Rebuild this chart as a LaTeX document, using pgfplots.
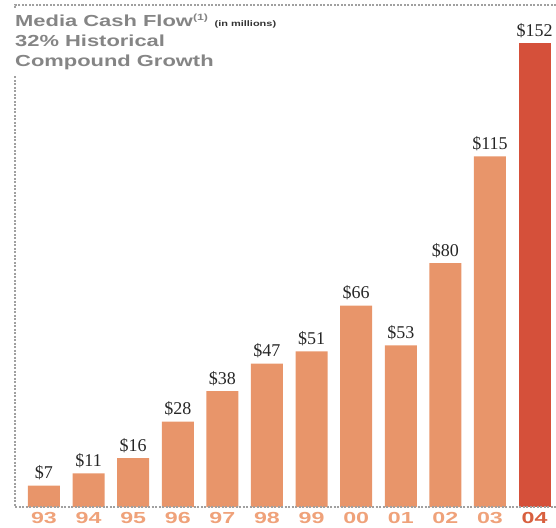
\documentclass[border=0pt]{standalone}
\usepackage{pgfplots}
\pgfplotsset{compat=1.18}
\usepackage{pgfplotstable}
\usepackage{fontspec}
\setmainfont{Liberation Serif}
\newfontfamily\widefont{Liberation Sans}[FakeStretch=1.45]
\newfontfamily\titlefont{Liberation Sans}[FakeStretch=1.37]
\definecolor{barorange}{HTML}{E8956A}
\definecolor{barred}{HTML}{D5503A}
\definecolor{baredge}{HTML}{F8C9A0}
\definecolor{ticko}{HTML}{EFA27A}
\definecolor{tickr}{HTML}{D8603F}
\definecolor{titlegray}{HTML}{858585}
\definecolor{framegray}{HTML}{A0A0A0}
\pgfplotstableread{
x v
0 7
1 11
2 16
3 28
4 38
5 47
6 51
7 66
8 53
9 80
10 115
}\orangedata
\pgfplotstableread{
x v
11 152
}\reddata
\begin{document}
\begin{tikzpicture}
\useasboundingbox (0,0) rectangle (556pt,527pt);
\begin{axis}[
  at={(15pt,20pt)}, anchor=south west,
  scale only axis, width=541pt, height=502pt,
  xmin=-0.65, xmax=11.48, ymin=0, ymax=164.6,
  axis line style={draw=none},
  ytick=\empty,
  xtick={0,...,11},
  xticklabels={93,94,95,96,97,98,99,00,01,02,03,{\textcolor{tickr}{04}}},
  major tick length=0pt,
  xticklabel style={anchor=north, inner sep=0pt, yshift=-5pt, text=ticko, font=\widefont\bfseries\fontsize{16}{16}\selectfont},
  /pgf/number format/assume math mode=true,
  nodes near coords={\$\pgfmathprintnumber{\pgfplotspointmeta}},
  nodes near coords style={anchor=south, yshift=2pt, text=black!85, font=\fontsize{18}{18}\selectfont},
  clip=false,
]
\addplot[ybar, bar width=32pt, bar shift=0pt, fill=barorange, draw=none] table[x=x, y=v] {\orangedata};
\addplot[ybar, bar width=32pt, bar shift=0pt, fill=barred, draw=none] table[x=x, y=v] {\reddata};
\draw[framegray, line width=2pt, dash pattern=on 2pt off 1.5pt]
  (rel axis cs:1,1) -- (rel axis cs:0,1) -- (rel axis cs:0,0) -- (rel axis cs:1,0);
\node[anchor=north west, fill=white, inner xsep=2pt, inner ysep=5pt, xshift=-2pt, yshift=-4pt,
  align=left, text=titlegray, font=\titlefont\bfseries\fontsize{16}{20}\selectfont]
  at (rel axis cs:0,1)
  {Media Cash Flow\textsuperscript{\fontsize{9}{9}\selectfont(1)} {\fontsize{8}{8}\selectfont\color{black!80}(in millions)}\\32\% Historical\\Compound Growth};
\end{axis}
\end{tikzpicture}
\end{document}
